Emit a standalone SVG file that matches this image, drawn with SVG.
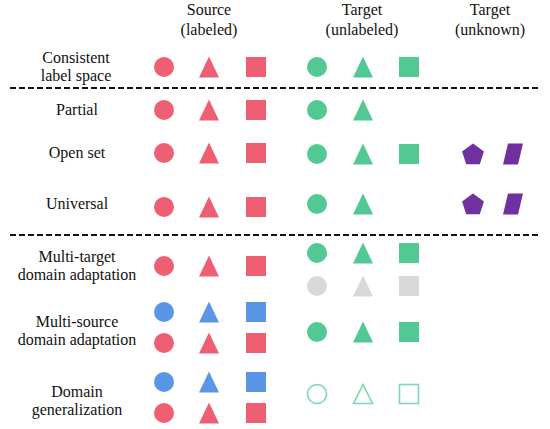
<svg xmlns="http://www.w3.org/2000/svg" width="550" height="429" viewBox="0 0 550 429">
<style>
.r{fill:#ee5f74}.g{fill:#52c993}.b{fill:#5b96e6}.p{fill:#7030a0}.k{fill:#d9d9d9}
.o{fill:none;stroke:#7dd8ae;stroke-width:1.6}
.dash{stroke:#111;stroke-width:2;stroke-dasharray:6 3;fill:none}
</style>
<defs>
<circle id="c" r="10"/>
<path id="t" d="M0,-10.5 L10,10.5 L-10,10.5 Z"/>
<rect id="s" x="-10" y="-10" width="20" height="20"/>
<path id="pe" d="M0,-11.5 L10.94,-3.55 L6.76,9.3 L-6.76,9.3 L-10.94,-3.55 Z"/>
<path id="pa" d="M-5,-10.5 L10,-10.5 L5,10.5 L-10,10.5 Z"/>
</defs>
<rect width="550" height="429" fill="#fff"/>
<g id="headers">
<text x="209" y="15" font-family="Liberation Serif" font-size="16" text-anchor="middle" fill="#111">Source</text>
<text x="209" y="35" font-family="Liberation Serif" font-size="16" text-anchor="middle" fill="#111">(labeled)</text>
<text x="362" y="15" font-family="Liberation Serif" font-size="16" text-anchor="middle" fill="#111">Target</text>
<text x="362" y="35" font-family="Liberation Serif" font-size="16" text-anchor="middle" fill="#111">(unlabeled)</text>
<text x="490" y="15" font-family="Liberation Serif" font-size="16" text-anchor="middle" fill="#111">Target</text>
<text x="490" y="35" font-family="Liberation Serif" font-size="16" text-anchor="middle" fill="#111">(unknown)</text>
</g>
<g id="separators">
<line class="dash" x1="10" y1="88" x2="540" y2="88"/>
<line class="dash" x1="10" y1="235" x2="540" y2="235"/>
</g>
<g id="consistent">
<text x="76" y="63" font-family="Liberation Serif" font-size="16" text-anchor="middle" fill="#111">Consistent</text>
<text x="76" y="81" font-family="Liberation Serif" font-size="16" text-anchor="middle" fill="#111">label space</text>
<use href="#c" x="164" y="67" class="r"/><use href="#t" x="209" y="67" class="r"/><use href="#s" x="256" y="67" class="r"/>
<use href="#c" x="317" y="67" class="g"/><use href="#t" x="363" y="67" class="g"/><use href="#s" x="409" y="67" class="g"/>
</g>
<g id="partial">
<text x="77" y="115" font-family="Liberation Serif" font-size="16" text-anchor="middle" fill="#111">Partial</text>
<use href="#c" x="164" y="110" class="r"/><use href="#t" x="209" y="110" class="r"/><use href="#s" x="256" y="110" class="r"/>
<use href="#c" x="317" y="110" class="g"/><use href="#t" x="363" y="110" class="g"/>
</g>
<g id="openset">
<text x="77" y="158" font-family="Liberation Serif" font-size="16" text-anchor="middle" fill="#111">Open set</text>
<use href="#c" x="164" y="153" class="r"/><use href="#t" x="209" y="153" class="r"/><use href="#s" x="256" y="153" class="r"/>
<use href="#c" x="317" y="154" class="g"/><use href="#t" x="363" y="154" class="g"/><use href="#s" x="409" y="154" class="g"/>
<use href="#pe" x="473" y="155" class="p"/><use href="#pa" x="513" y="154" class="p"/>
</g>
<g id="universal">
<text x="77" y="209" font-family="Liberation Serif" font-size="16" text-anchor="middle" fill="#111">Universal</text>
<use href="#c" x="164" y="207" class="r"/><use href="#t" x="209" y="207" class="r"/><use href="#s" x="256" y="207" class="r"/>
<use href="#c" x="317" y="204" class="g"/><use href="#t" x="363" y="204" class="g"/>
<use href="#pe" x="473" y="205" class="p"/><use href="#pa" x="513" y="204" class="p"/>
</g>
<g id="multitarget">
<text x="77" y="262" font-family="Liberation Serif" font-size="16" text-anchor="middle" fill="#111">Multi-target</text>
<text x="77" y="280" font-family="Liberation Serif" font-size="16" text-anchor="middle" fill="#111">domain adaptation</text>
<use href="#c" x="164" y="266" class="r"/><use href="#t" x="209" y="266" class="r"/><use href="#s" x="256" y="266" class="r"/>
<use href="#c" x="317" y="253" class="g"/><use href="#t" x="363" y="253" class="g"/><use href="#s" x="409" y="253" class="g"/>
<use href="#c" x="317" y="286" class="k"/><use href="#t" x="363" y="286" class="k"/><use href="#s" x="409" y="286" class="k"/>
</g>
<g id="multisource">
<text x="77" y="327" font-family="Liberation Serif" font-size="16" text-anchor="middle" fill="#111">Multi-source</text>
<text x="77" y="345" font-family="Liberation Serif" font-size="16" text-anchor="middle" fill="#111">domain adaptation</text>
<use href="#c" x="164" y="312" class="b"/><use href="#t" x="209" y="312" class="b"/><use href="#s" x="256" y="312" class="b"/>
<use href="#c" x="164" y="343" class="r"/><use href="#t" x="209" y="343" class="r"/><use href="#s" x="256" y="343" class="r"/>
<use href="#c" x="317" y="332" class="g"/><use href="#t" x="363" y="332" class="g"/><use href="#s" x="409" y="332" class="g"/>
</g>
<g id="domaingen">
<text x="77" y="397" font-family="Liberation Serif" font-size="16" text-anchor="middle" fill="#111">Domain</text>
<text x="77" y="415" font-family="Liberation Serif" font-size="16" text-anchor="middle" fill="#111">generalization</text>
<use href="#c" x="164" y="382" class="b"/><use href="#t" x="209" y="382" class="b"/><use href="#s" x="256" y="382" class="b"/>
<use href="#c" x="164" y="413" class="r"/><use href="#t" x="209" y="413" class="r"/><use href="#s" x="256" y="413" class="r"/>
<circle cx="317" cy="394" r="9.5" class="o"/>
<path d="M363,384.5 L372.5,403.5 L353.5,403.5 Z" class="o"/>
<rect x="399.5" y="384.5" width="19" height="19" class="o"/>
</g>
</svg>
